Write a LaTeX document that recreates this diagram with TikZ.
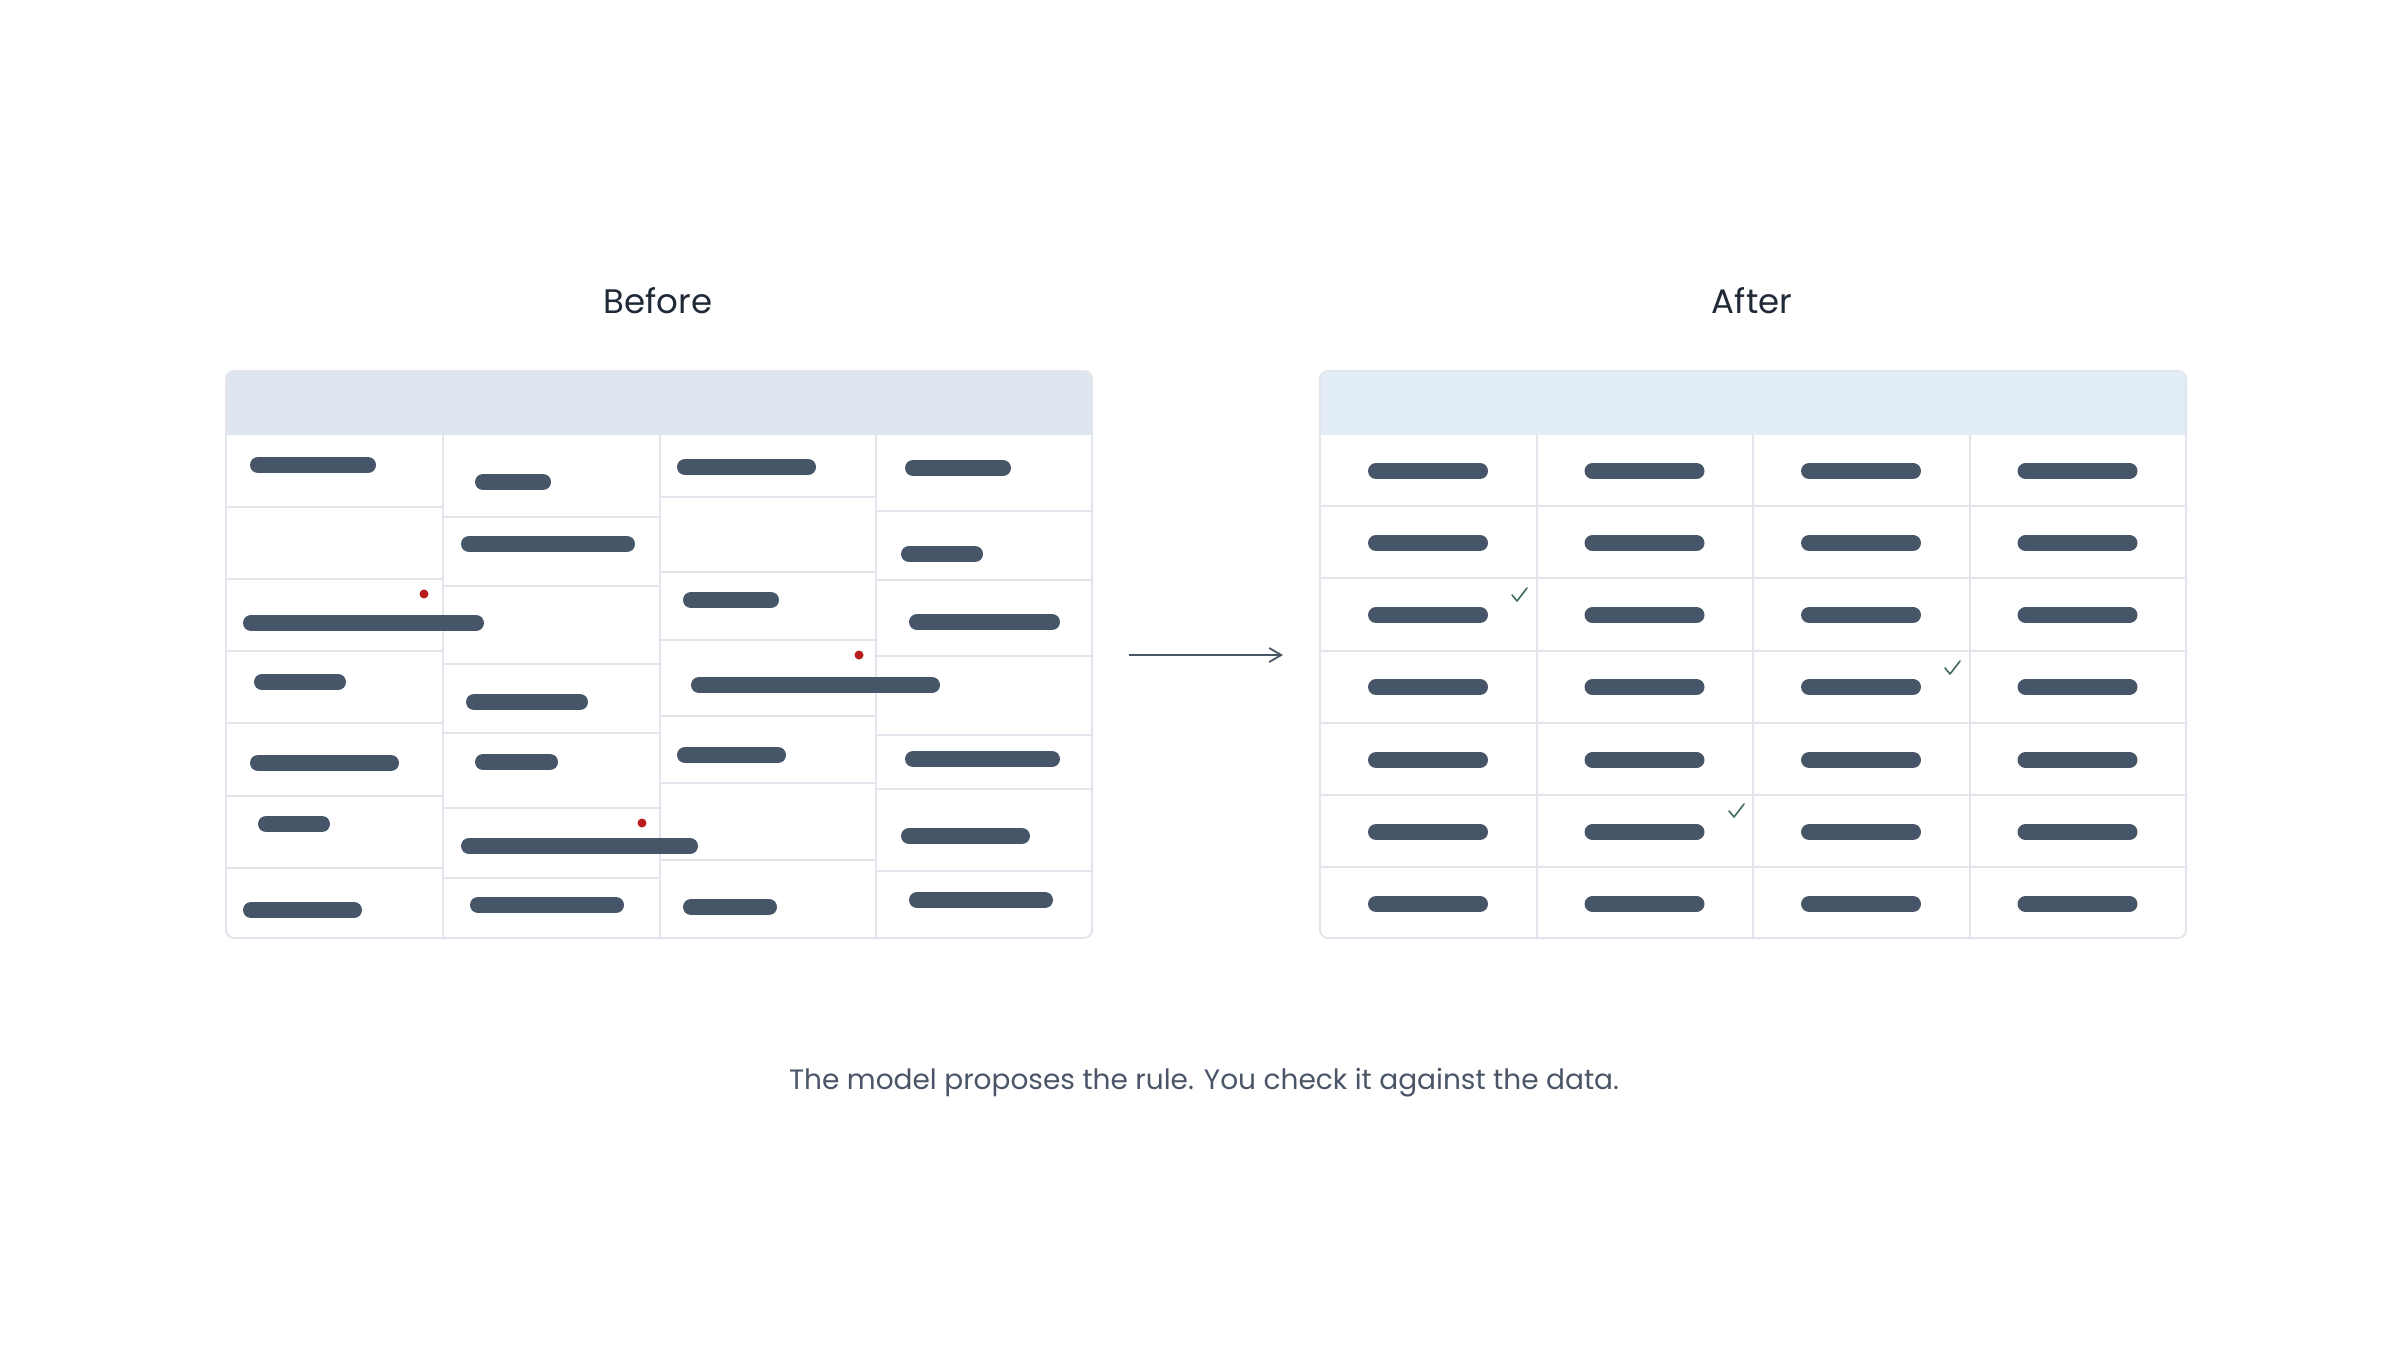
\documentclass[tikz,border=0pt]{standalone}
\usepackage{fontspec}
\setmainfont{Poppins}
\usetikzlibrary{arrows.meta}
\definecolor{barcol}{HTML}{475569}
\definecolor{gridcol}{HTML}{E2E6EC}
\definecolor{headA}{HTML}{DFE5EE}
\definecolor{headB}{HTML}{E3EDF7}
\definecolor{dotcol}{HTML}{B91C1C}
\definecolor{checkcol}{HTML}{3F6B5A}
\definecolor{titlecol}{HTML}{1F2937}
\definecolor{captcol}{HTML}{4A5568}
\tikzset{
  bar/.style={barcol,line width=16pt,line cap=round},
  grid/.style={gridcol,line width=2pt},
  flag/.style={fill=dotcol},
  tick/.style={checkcol,line width=1.6pt,line cap=round,line join=round},
}
\begin{document}
\begin{tikzpicture}[x=1pt,y=-1pt,font=\fontsize{34}{40}\selectfont]
   \useasboundingbox (0,0) rectangle (2400,1350);
   % Titles
   \node [text=titlecol] (before) at (658,301) {Before};
   \node [text=titlecol] (after) at (1752,301) {After};
   % Headers
   \begin{scope}
     \clip [rounded corners=8pt] (226,371) rectangle (1092,938);
     \fill [headA] (226,371) rectangle (1092,435);
   \end{scope}
   \begin{scope}
     \clip [rounded corners=8pt] (1320,371) rectangle (2186,938);
     \fill [headB] (1320,371) rectangle (2186,435);
   \end{scope}
   % Before: ragged rows per column
   \foreach \x/\ys in {226/{507,579,651,723,796,868},
                       443/{517,586,664,733,808,878},
                       660/{497,572,640,716,783,860},
                       876/{511,580,656,735,789,871}}
     \foreach \y in \ys
       \draw [grid] (\x,\y) -- +(216,0);
   \foreach \x in {443,660,876}
     \draw [grid] (\x,435) -- (\x,938);
   % Before: bars (left, right, y)
   \foreach \a/\b/\y in {250/376/465, 243/484/623, 254/346/682, 250/399/763, 258/330/824, 243/362/910,
                         475/551/482, 461/635/544, 466/588/702, 475/558/762, 461/698/846, 470/624/905,
                         677/816/467, 683/779/600, 691/940/685, 677/786/755, 683/777/907,
                         905/1011/468, 901/983/554, 909/1060/622, 905/1060/759, 901/1030/836, 909/1053/900}
     \draw [bar] (\a+8,\y) -- (\b-8,\y);
   % Flags
   \foreach \x/\y in {424/594, 642/823, 859/655}
     \fill [flag] (\x,\y) circle (4.5pt);
   % After: regular grid
   \foreach \y in {506,578,651,723,795,867}
     \draw [grid] (1320,\y) -- (2186,\y);
   \foreach \x in {1536.5,1753,1969.5}
     \draw [grid] (\x,435) -- (\x,938);
   \foreach \c in {0,...,3}
     \foreach \y in {471,543,615,687,760,832,904}
       \draw [bar] (1376+\c*216.5,\y) -- (1480+\c*216.5,\y);
   % Checks
   \foreach \x/\y in {1519/595, 1952/668, 1736/811}
     \draw [tick] (\x-7,\y) -- (\x-2,\y+6) -- (\x+8,\y-7);
   % Outlines
   \draw [grid,rounded corners=8pt] (226,371) rectangle (1092,938);
   \draw [grid,rounded corners=8pt] (1320,371) rectangle (2186,938);
   % Arrow
   \coordinate (from) at (1129,655);
   \coordinate (to) at (1283,655);
   \draw [captcol,line width=1.8pt,-{Straight Barb[length=12pt,width=14pt]}] (from) -- (to);
   % Caption
   \node [text=captcol,font=\fontsize{28}{34}\selectfont] (caption) at (1204,1083)
     {The model proposes the rule. You check it against the data.};
\end{tikzpicture}
\end{document}
